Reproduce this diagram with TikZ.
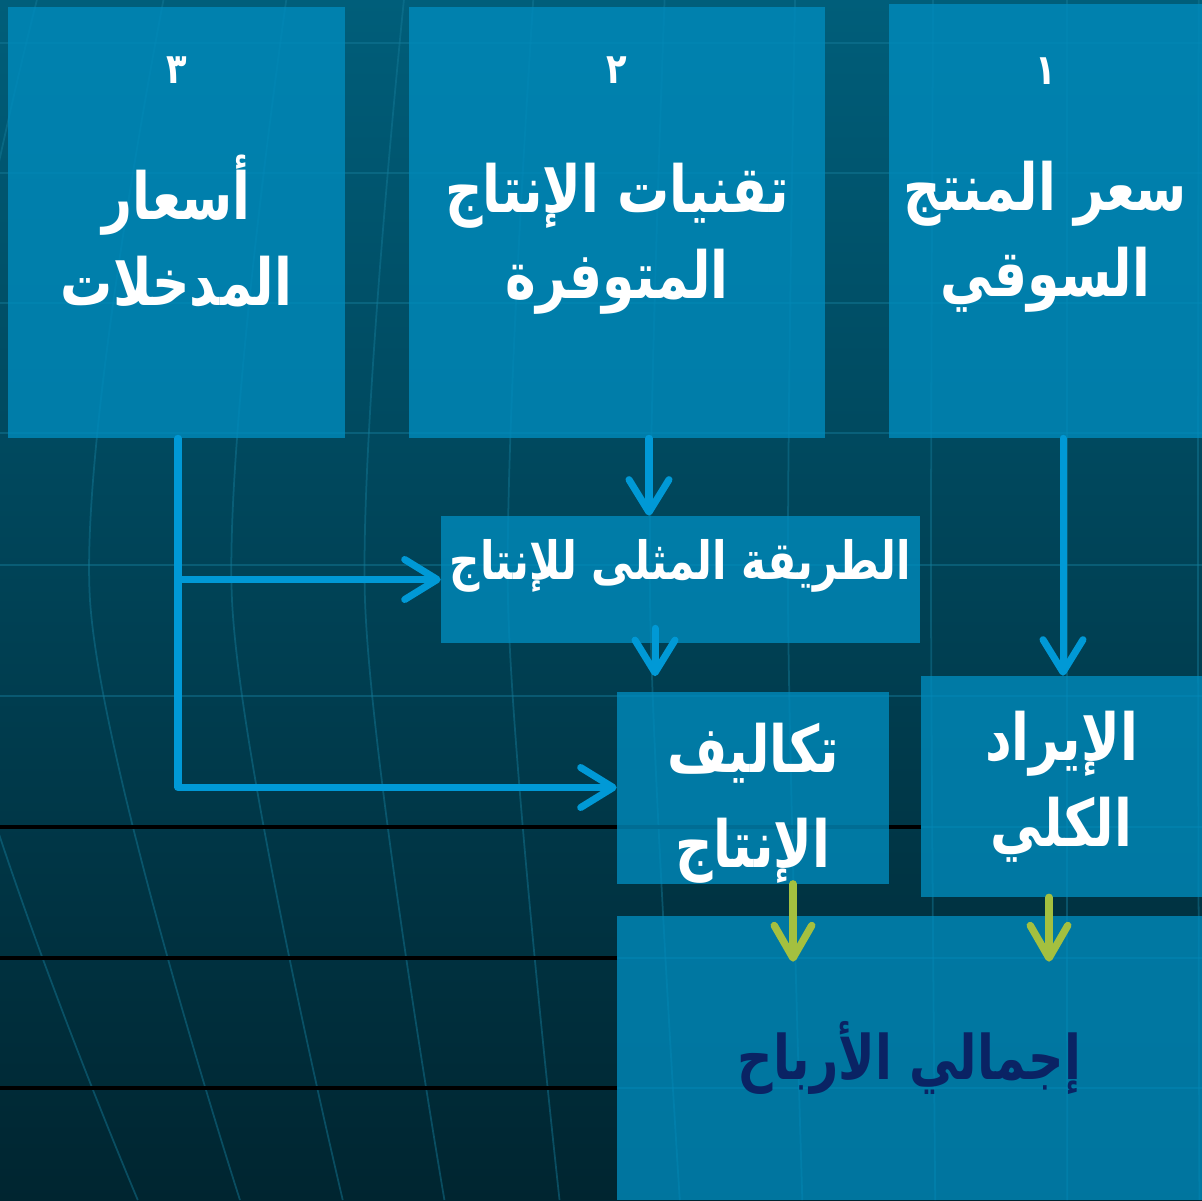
\documentclass[tikz,border=0pt]{standalone}
\usepackage{fontspec}
\newfontfamily\arabicfont[Script=Arabic,FakeStretch=0.8]{DejaVu Sans}
\TeXXeTstate=1
\usetikzlibrary{arrows.meta,positioning}
\definecolor{bgtop}{RGB}{0,94,122}
\definecolor{bgmid}{RGB}{0,70,90}
\definecolor{bgbot}{RGB}{0,37,48}
\definecolor{boxblue}{RGB}{0,140,190}
\definecolor{linkblue}{RGB}{0,153,214}
\definecolor{linkgreen}{RGB}{164,192,63}
\definecolor{gridteal}{RGB}{20,125,155}
\definecolor{profitnavy}{RGB}{10,35,100}
\tikzset{>=stealth}
\newcommand\ar[1]{\beginR#1\endR}
\newcommand\toprule{\rule{0pt}{1.25em}}
\newcommand\botrule{\rule[-0.75em]{0pt}{0.75em}}
\tikzset{
  box/.style={rectangle,fill=boxblue,fill opacity=.78,text opacity=1,
    text=white,inner sep=0pt,align=center,
    font=\arabicfont\bfseries\fontsize{37}{49}\selectfont},
  numtext/.style={text=white,font=\arabicfont\bfseries\fontsize{24}{28}\selectfont},
  gridline/.style={draw=gridteal,line width=1pt,opacity=.45},
  blackline/.style={draw=black,line width=2pt},
  bluelink/.style={draw=linkblue,line width=4pt,line cap=round,line join=round,
    -{Straight Barb[length=6.5mm,width=8mm,round]}},
  greenlink/.style={draw=linkgreen,line width=4.2pt,line cap=round,
    -{Straight Barb[length=6.5mm,width=7.5mm,round]}}
}

\begin{document}
\begin{tikzpicture}[x=0.02cm,y=-0.02cm]
\useasboundingbox (0,0) rectangle (1202,1200);
\shade[top color=bgtop,middle color=bgmid,bottom color=bgbot]
  (0,0) rectangle (1202,1200);

% grid of the globe
\foreach \y in {43,173,303,433,565,696,827,958,1088}
  \draw[gridline] (0,\y) -- (1202,\y);
\foreach \m in {-60,90,232,365,508,650,788,931,1067,1198}
  \draw[gridline] plot[smooth] coordinates
    {({\m+0.72*((1100-\m)/100)^2},0) (\m,600) ({\m+1.47*((1100-\m)/100)^2},1200)};
\draw[blackline] (0,827) -- (921,827);
\draw[blackline] (0,958) -- (617,958);
\draw[blackline] (0,1088) -- (617,1088);

% the three inputs
\node[box,minimum width=6.74cm,minimum height=8.62cm] (b3) at (176.5,222.5)
  {\toprule\ar{أسعار}\\\ar{المدخلات}};
\node[box,minimum width=8.32cm,minimum height=8.62cm] (b2) at (617,222.5)
  {\toprule\ar{تقنيات الإنتاج}\\\ar{المتوفرة}};
\node[box,minimum width=6.26cm,minimum height=8.68cm] (b1) at (1045.5,221)
  {\toprule\ar{سعر المنتج}\\\ar{السوقي}};
\node[numtext,yshift=-1.26cm] (n3) at (b3.north) {\ar{٣}};
\node[numtext,yshift=-1.26cm] (n2) at (b2.north) {\ar{٢}};
\node[numtext,yshift=-1.34cm] (n1) at (b1.north) {\ar{١}};

% the results
\node[box,minimum width=9.58cm,minimum height=2.54cm,
  font=\arabicfont\bfseries\fontsize{30}{34}\selectfont] (opt) at (680.5,579.5)
  {\ar{الطريقة المثلى للإنتاج}\botrule};
\node[box,minimum width=5.44cm,minimum height=3.82cm,
  font=\arabicfont\bfseries\fontsize{37}{54}\selectfont] (cost) at (753,787.5)
  {\toprule\ar{تكاليف}\\\ar{الإنتاج}};
\node[box,minimum width=5.62cm,minimum height=4.42cm] (rev) at (1061.5,786.5)
  {\ar{الإيراد}\\\ar{الكلي}};
\node[box,minimum width=11.7cm,minimum height=5.68cm,text=profitnavy,
  font=\arabicfont\bfseries\fontsize{35}{40}\selectfont] (profit) at (909.5,1058)
  {\ar{إجمالي الأرباح}};

% links
\draw[bluelink] ([xshift=0.64cm]b2.south) -- ([xshift=0.64cm]b2.south |- opt.north);
\draw[bluelink] ([xshift=-0.51cm,yshift=0.3cm]opt.south)
  -- ([xshift=-0.51cm,yshift=0.3cm]opt.south |- cost.north);
\draw[bluelink] ([xshift=0.35cm]b1.south) -- ([xshift=0.35cm]b1.south |- rev.north);
\draw[bluelink] ([xshift=0.03cm]b3.south) |- (cost.west);
\draw[bluelink] ([xshift=0.03cm]b3.south |- opt.west) -- (opt.west);
\draw[greenlink] ([xshift=0.8cm]cost.south) -- ([xshift=0.8cm,yshift=-0.92cm]cost.south |- profit.north);
\draw[greenlink] ([xshift=-0.25cm]rev.south) -- ([xshift=-0.25cm,yshift=-0.92cm]rev.south |- profit.north);
\end{tikzpicture}
\end{document}
